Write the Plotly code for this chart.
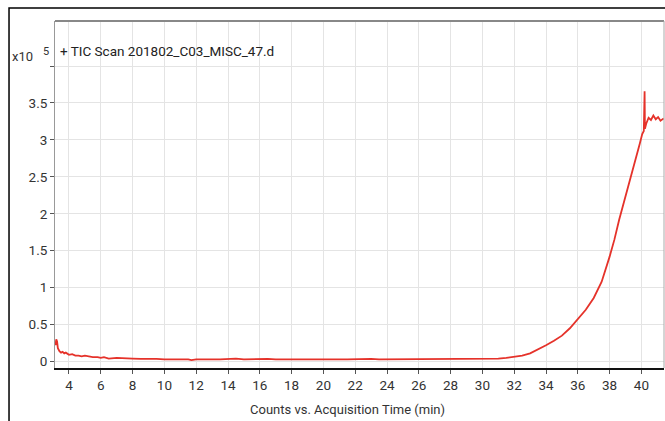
import plotly.graph_objects as go

# Acquisition time (min) and counts (x10^5)
time_min = [3.15, 3.2, 3.25, 3.3, 3.4, 3.5, 3.6, 3.7, 3.8, 3.9, 4.0, 4.2, 4.4, 4.6, 4.8,
            5.0, 5.2, 5.5, 5.8, 6.0, 6.2, 6.5, 7.0, 7.5, 8.0, 8.5, 9.0, 9.5, 10.0, 10.5,
            11.0, 11.5, 11.7, 12.0, 12.5, 13.0, 13.5, 14.0, 14.5, 15.0, 15.5, 16.0, 16.5,
            17.0, 17.5, 18.0, 18.5, 19.0, 19.5, 20.0, 20.5, 21.0, 21.5, 22.0, 22.5, 23.0,
            23.5, 24.0, 24.5, 25.0, 25.5, 26.0, 26.5, 27.0, 27.5, 28.0, 28.5, 29.0, 29.5,
            30.0, 30.5, 31.0, 31.5, 32.0, 32.5, 33.0, 33.5, 34.0, 34.5, 35.0, 35.5, 36.0,
            36.5, 37.0, 37.5, 38.0, 38.3, 38.6, 38.9, 39.2, 39.5, 39.7, 39.9, 40.05, 40.15,
            40.2, 40.22, 40.3, 40.45, 40.6, 40.75, 40.9, 41.05, 41.2, 41.4]
counts_e5 = [0.22, 0.30, 0.27, 0.18, 0.14, 0.12, 0.13, 0.11, 0.12, 0.10, 0.09, 0.10, 0.08, 0.08, 0.07,
             0.08, 0.07, 0.06, 0.06, 0.05, 0.06, 0.04, 0.05, 0.04, 0.04, 0.035, 0.04, 0.035, 0.03, 0.035,
             0.03, 0.03, 0.02, 0.03, 0.035, 0.03, 0.03, 0.035, 0.04, 0.03, 0.035, 0.03, 0.035,
             0.03, 0.035, 0.03, 0.03, 0.035, 0.03, 0.03, 0.035, 0.03, 0.03, 0.035, 0.03, 0.035,
             0.03, 0.03, 0.035, 0.03, 0.03, 0.035, 0.03, 0.035, 0.03, 0.03, 0.035, 0.03, 0.035,
             0.035, 0.04, 0.04, 0.05, 0.06, 0.08, 0.11, 0.16, 0.22, 0.28, 0.35, 0.45, 0.57,
             0.70, 0.86, 1.08, 1.42, 1.65, 1.92, 2.15, 2.38, 2.62, 2.78, 2.95, 3.08, 3.12,
             3.66, 3.15, 3.22, 3.30, 3.27, 3.33, 3.28, 3.31, 3.26, 3.29]

x_ticks = [4, 6, 8, 10, 12, 14, 16, 18, 20, 22, 24, 26, 28, 30, 32, 34, 36, 38, 40]
y_ticks = [0, 0.5, 1, 1.5, 2, 2.5, 3, 3.5, 4]
y_tick_labels = ["0", "0.5", "1", "1.5", "2", "2.5", "3", "3.5", ""]

FONT = "Roboto, Liberation Sans, sans-serif"

fig = go.Figure()
fig.add_trace(go.Scatter(x=time_min, y=counts_e5, mode="lines",
                         line=dict(color="#e5322a", width=1.8), showlegend=False))

fig.update_layout(
    width=665, height=421,
    margin=dict(l=55, r=1, t=21, b=53),
    paper_bgcolor="white", plot_bgcolor="white",
    font=dict(family=FONT, size=13.5, color="#333333"),
    xaxis=dict(range=[3.12, 41.42], tickvals=x_ticks, ticks="outside", ticklen=4,
               tickcolor="#555", showgrid=True, gridcolor="#e4e4e4", gridwidth=1,
               showline=True, linecolor="#111", linewidth=2, zeroline=False,
               tickfont=dict(size=13.5, color="#333")),
    yaxis=dict(range=[-0.088, 4.61], tickvals=y_ticks, ticktext=y_tick_labels,
               ticks="outside", ticklen=4, tickcolor="#555", showgrid=True,
               gridcolor="#e4e4e4", gridwidth=1, showline=True, linecolor="#999",
               linewidth=1, zeroline=False, tickfont=dict(size=13.5, color="#333")),
)

# plot frame top/right (gray) and outer black frame
fig.add_shape(type="line", xref="paper", yref="paper", x0=0, x1=1, y0=1, y1=1,
              line=dict(color="#888", width=2))
fig.add_shape(type="line", xref="paper", yref="paper", x0=1, x1=1, y0=0, y1=1,
              line=dict(color="#aaa", width=1))
fig.add_shape(type="rect", xref="paper", yref="paper", x0=-0.0755, x1=1.2, y0=-0.3, y1=1.0375,
              line=dict(color="black", width=1.5), fillcolor="rgba(0,0,0,0)")

fig.add_annotation(xref="paper", yref="paper", x=0.005, y=0.9135, xanchor="left", yanchor="middle",
                   text="+ TIC Scan 201802_C03_MISC_47.d", showarrow=False,
                   font=dict(size=13.5, color="#222"))
fig.add_annotation(xref="paper", yref="paper", x=-0.0328, y=0.899, xanchor="right", yanchor="middle",
                   text="x10", showarrow=False, font=dict(size=13, color="#333"))
fig.add_annotation(xref="paper", yref="paper", x=-0.0148, y=0.9135, xanchor="center", yanchor="middle",
                   text="5", showarrow=False, font=dict(size=11, color="#333"))
fig.add_annotation(xref="paper", yref="paper", x=0.4795, y=-0.121, xanchor="center", yanchor="middle",
                   text="Counts vs. Acquisition Time (min)", showarrow=False,
                   font=dict(size=13, color="#333"))

fig.write_html("out.html", config={"displayModeBar": False},
               post_script="document.body.style.margin='0';")
